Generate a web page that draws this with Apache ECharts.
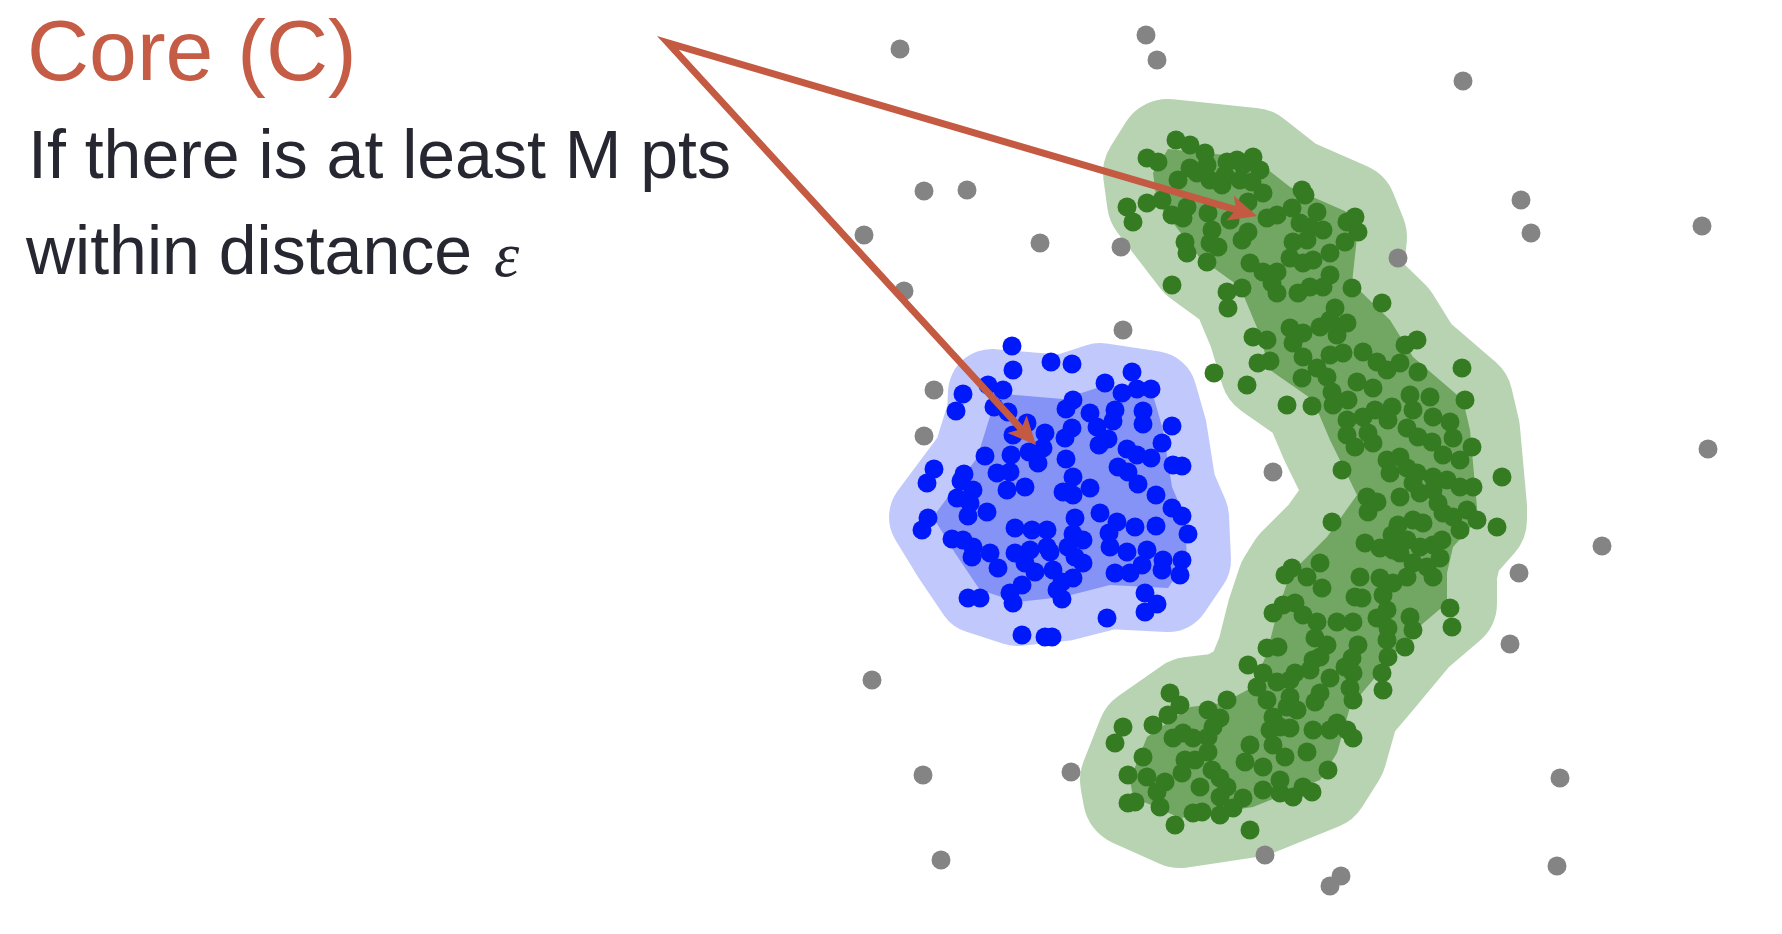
<!DOCTYPE html>
<html>
<head>
<meta charset="utf-8">
<script src="https://cdn.jsdelivr.net/npm/echarts@6/dist/echarts.min.js"></script>
<style>
html,body{margin:0;padding:0;background:#fff;}
#c{width:1782px;height:934px;}
</style>
</head>
<body>
<div id="c"></div>
<script>
// ---- data (page-pixel units, y grows downward) ----
var titleText = 'Core (C)';
var line1Text = 'If there is at least M pts';
var line2Text = 'within distance ';
var epsText = 'ε';

var noisePoints = [[900,49],[1146,35],[1157,60],[1463,81],[924,191],[967,190],[864,235],[1040,243],[1121,247],[1521,200],[1531,233],[1702,226],[1398,258],[904,291],[1123,330],[934,390],[924,436],[1273,472],[1708,449],[1602,546],[1519,573],[1510,644],[872,680],[923,775],[1071,772],[1560,778],[941,860],[1265,855],[1341,876],[1330,886],[1557,866]];

var bluePoints = [[1012,346],[1013,370],[1051,362],[1072,364],[1132,372],[1105,383],[1122,393],[1137,389],[1151,389],[963,394],[956,411],[988,385],[1003,390],[994,407],[1008,412],[1073,400],[1066,409],[1090,413],[1097,427],[1115,410],[1113,421],[1143,411],[1143,424],[1172,426],[1027,423],[1013,435],[1045,433],[1072,428],[1065,438],[1108,439],[1099,445],[1162,443],[985,456],[1011,455],[1029,452],[1043,448],[1038,463],[1066,459],[1127,449],[1137,455],[1151,458],[1173,465],[1182,466],[934,469],[927,483],[964,474],[961,481],[997,473],[1010,472],[1118,467],[1128,472],[1073,477],[1063,492],[1073,495],[1090,488],[1007,490],[1025,487],[1138,484],[1156,495],[973,490],[957,498],[970,503],[987,512],[968,516],[1172,508],[1182,516],[928,518],[922,530],[1075,518],[1100,513],[1117,522],[1135,527],[1156,526],[1188,534],[1015,528],[1032,530],[1047,530],[1073,534],[1083,540],[1109,533],[952,539],[963,540],[973,547],[972,557],[990,553],[998,568],[1015,553],[1030,550],[1047,547],[1050,552],[1068,547],[1075,557],[1083,563],[1110,547],[1127,552],[1147,550],[1163,560],[1182,560],[1025,563],[1035,572],[1053,570],[1073,578],[1115,573],[1130,573],[1142,565],[1162,570],[1180,575],[1022,585],[1010,593],[1013,603],[1062,582],[1057,590],[1062,599],[1145,593],[1157,604],[1145,612],[968,598],[980,598],[1107,618],[1022,635],[1045,637],[1052,637]];

var greenPointsTop = [[1176,140],[1190,145],[1147,158],[1158,162],[1205,153],[1207,165],[1190,168],[1178,180],[1197,173],[1210,180],[1222,185],[1227,162],[1237,160],[1253,157],[1243,165],[1260,170],[1225,175],[1240,180],[1252,182],[1263,193],[1248,202],[1127,207],[1133,222],[1147,203],[1162,200],[1172,215],[1183,218],[1187,207],[1208,213],[1230,220],[1267,218],[1277,215],[1292,208],[1302,190],[1305,195],[1317,212],[1300,223],[1310,227],[1323,230],[1347,222],[1355,217],[1358,232],[1345,242],[1293,242],[1307,240],[1290,258],[1303,263],[1313,260],[1330,253],[1250,263],[1263,272],[1277,272],[1272,283],[1277,293],[1212,230],[1210,243],[1218,247],[1185,242],[1187,253],[1207,262],[1242,240],[1248,232],[1172,285],[1227,292],[1242,288],[1228,308],[1298,293],[1310,287],[1323,287],[1330,275],[1352,288],[1382,303],[1335,308],[1320,327],[1330,320],[1347,323],[1337,335],[1290,328],[1303,333],[1293,343],[1253,337],[1267,340],[1405,345],[1417,340]];

var greenPointsMid = [[1214,373],[1247,385],[1287,405],[1312,406],[1258,363],[1270,361],[1303,357],[1302,378],[1317,368],[1330,355],[1343,353],[1363,352],[1377,362],[1387,370],[1400,363],[1418,372],[1462,368],[1357,382],[1373,388],[1327,377],[1332,392],[1333,405],[1348,400],[1347,420],[1347,435],[1355,447],[1363,417],[1375,410],[1368,433],[1373,443],[1392,407],[1388,420],[1410,395],[1430,397],[1413,410],[1433,417],[1450,422],[1407,428],[1418,437],[1432,442],[1453,438],[1472,447],[1443,455],[1460,460],[1465,400],[1387,460],[1400,457],[1390,473],[1407,468],[1417,473],[1413,483],[1433,477],[1447,480],[1460,487],[1473,487],[1502,477],[1342,470],[1367,497],[1377,502],[1368,512],[1400,497],[1420,493],[1433,490],[1438,503],[1443,513],[1453,517],[1467,510],[1477,520],[1460,530],[1413,520],[1423,523],[1398,525],[1392,535],[1407,540],[1420,547],[1433,545],[1440,558],[1442,540],[1365,543],[1380,548],[1393,550],[1400,553],[1413,563],[1427,567],[1433,577],[1407,577],[1393,583],[1380,578],[1360,577],[1497,527],[1332,522],[1320,563],[1292,568],[1285,575],[1307,577],[1322,588]];

var greenPointsLow = [[1450,608],[1452,627],[1273,613],[1283,605],[1295,603],[1303,615],[1317,622],[1337,622],[1353,622],[1355,597],[1362,598],[1383,595],[1377,618],[1387,610],[1388,628],[1387,640],[1410,617],[1413,630],[1405,647],[1388,657],[1382,673],[1383,690],[1315,638],[1327,645],[1320,657],[1313,660],[1267,648],[1278,647],[1358,645],[1352,658],[1345,667],[1353,673],[1330,678],[1350,688],[1353,700],[1320,693],[1315,702],[1310,670],[1295,673],[1290,680],[1277,682],[1263,673],[1248,665],[1257,687],[1267,700],[1290,697],[1287,707],[1297,710],[1273,717],[1280,727],[1290,728],[1270,730],[1273,745],[1285,757],[1307,752],[1313,730],[1330,730],[1337,723],[1347,730],[1353,738],[1328,770],[1250,745],[1245,762],[1263,767],[1280,780],[1263,790],[1280,793],[1293,797],[1303,787],[1312,792],[1227,700],[1208,710],[1220,718],[1213,727],[1208,737],[1208,752],[1193,738],[1183,733],[1173,738],[1170,693],[1180,705],[1168,715],[1153,725],[1123,727],[1115,743],[1143,757],[1128,775],[1147,777],[1165,782],[1157,792],[1182,773],[1185,760],[1195,760],[1200,787],[1212,770],[1220,778],[1227,787],[1220,797],[1243,798],[1233,808],[1220,815],[1202,812],[1193,813],[1160,807],[1128,803],[1135,802],[1175,825],[1250,830]];

var blueCoreHull = [[992,393],[1063,399],[1100,387],[1153,395],[1163,430],[1172,487],[1185,517],[1187,560],[1168,588],[1110,585],[1063,597],[1017,602],[980,590],[955,553],[933,517],[977,458],[991,413]];

var greenCoreHull = [[1168,149],[1253,158],[1290,187],[1347,212],[1357,237],[1352,283],[1390,320],[1413,357],[1463,400],[1470,430],[1477,507],[1477,520],[1453,547],[1447,573],[1447,603],[1413,632],[1373,680],[1350,707],[1337,753],[1320,780],[1253,807],[1180,818],[1133,797],[1130,780],[1147,737],[1190,707],[1223,703],[1253,687],[1267,653],[1277,613],[1287,583],[1297,567],[1327,537],[1357,495],[1330,440],[1313,400],[1270,370],[1258,330],[1240,287],[1200,258],[1157,202],[1153,173]];

var arrowApex = [668,43];
var arrowTips = [[1257,216],[1036,445]];

// ---- chart ----
var chart = echarts.init(document.getElementById('c'), null, {renderer:'canvas'});

function hullSeries(hull, lightColor, darkColor, reach) {
  return {
    type: 'custom',
    coordinateSystem: 'cartesian2d',
    silent: true,
    clip: false,
    z: 1,
    data: [[hull[0][0], hull[0][1]]],
    renderItem: function (params, api) {
      var pts = hull.map(function (p) { return api.coord(p); });
      return {
        type: 'group',
        children: [
          { type: 'polygon', shape: { points: pts },
            style: { fill: lightColor, stroke: lightColor, lineWidth: reach * 2, lineJoin: 'round' } },
          { type: 'polygon', shape: { points: pts },
            style: { fill: darkColor, stroke: null } }
        ]
      };
    }
  };
}

function scatterSeries(name, data, color) {
  return {
    name: name, type: 'scatter', data: data, symbol: 'circle', symbolSize: 19,
    itemStyle: { color: color, opacity: 1 }, silent: true, z: 3
  };
}

var arrowColor = '#c45a42';

var option = {
  animation: false,
  backgroundColor: '#ffffff',
  grid: { left: 0, right: 0, top: 0, bottom: 0 },
  xAxis: { type: 'value', min: 0, max: 1782, show: false },
  yAxis: { type: 'value', min: 0, max: 934, inverse: true, show: false },
  graphic: [
    { type: 'text', x: 27, y: 56, z: 10,
      style: { text: titleText, fill: '#c55c45', font: '86px "Liberation Sans", Arial, sans-serif', align: 'left', verticalAlign: 'middle' } },
    { type: 'text', x: 28, y: 159, z: 10,
      style: { text: line1Text, fill: '#272731', font: '68px "Liberation Sans", Arial, sans-serif', align: 'left', verticalAlign: 'middle' } },
    { type: 'text', x: 26, y: 255, z: 10,
      style: { text: line2Text, fill: '#272731', font: '68px "Liberation Sans", Arial, sans-serif', align: 'left', verticalAlign: 'middle' } },
    { type: 'text', x: 494, y: 259, z: 10,
      style: { text: epsText, fill: '#272731', font: 'italic 64px "Liberation Serif", "DejaVu Serif", serif', align: 'left', verticalAlign: 'middle' } }
  ],
  series: [
    hullSeries(blueCoreHull, '#c1c8fb', '#8593f6', 44),
    hullSeries(greenCoreHull, '#b8d3b2', '#71a663', 50),
    scatterSeries('noise', noisePoints, '#848484'),
    scatterSeries('blue', bluePoints, '#0019fb'),
    scatterSeries('greenTop', greenPointsTop, '#357b22'),
    scatterSeries('greenMid', greenPointsMid, '#357b22'),
    scatterSeries('greenLow', greenPointsLow, '#357b22'),
    {
      type: 'custom',
      coordinateSystem: 'cartesian2d',
      silent: true,
      clip: false,
      z: 5,
      data: [[arrowApex[0], arrowApex[1]]],
      renderItem: function (params, api) {
        var a = api.coord(arrowApex);
        var L = 28, W = 26;
        var heads = [];
        var ends = [];
        arrowTips.forEach(function (t) {
          var e = api.coord(t);
          var dx = e[0] - a[0], dy = e[1] - a[1];
          var len = Math.sqrt(dx * dx + dy * dy);
          var ux = dx / len, uy = dy / len;
          var nx = -uy, ny = ux;
          var bx = e[0] - ux * L, by = e[1] - uy * L;
          ends.push([e[0] - ux * L * 0.7, e[1] - uy * L * 0.7]);
          heads.push({
            type: 'polygon',
            shape: { points: [
              [e[0], e[1]],
              [bx + nx * W / 2, by + ny * W / 2],
              [e[0] - ux * L * 0.78, e[1] - uy * L * 0.78],
              [bx - nx * W / 2, by - ny * W / 2]
            ] },
            style: { fill: arrowColor }
          });
        });
        var children = [{
          type: 'polyline',
          shape: { points: [ends[0], a, ends[1]] },
          style: { stroke: arrowColor, lineWidth: 7, lineJoin: 'miter', miterLimit: 20, fill: null }
        }].concat(heads);
        return { type: 'group', children: children };
      }
    }
  ]
};
chart.setOption(option);
</script>
</body>
</html>
